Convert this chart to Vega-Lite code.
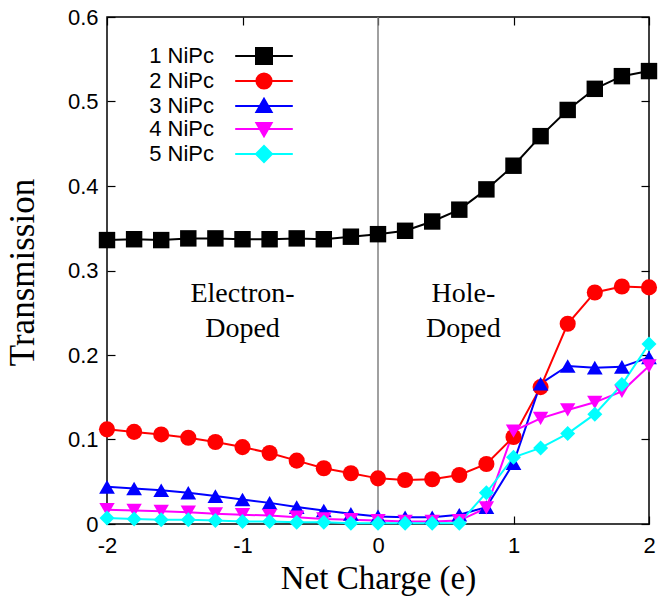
{
  "$schema": "https://vega.github.io/schema/vega-lite/v6.json",
  "width": 542,
  "height": 507,
  "autosize": {"type": "none"},
  "padding": {"left": 107, "top": 17, "right": 9, "bottom": 80},
  "background": "white",
  "config": {"view": {"stroke": "black", "strokeWidth": 1.5}, "font": "Liberation Sans"},
  "datasets": {
    "pts": [
      {"series": "1 NiPc", "charge": -2, "value": 0.336}, {"series": "1 NiPc", "charge": -1.8, "value": 0.337}, {"series": "1 NiPc", "charge": -1.6, "value": 0.336}, {"series": "1 NiPc", "charge": -1.4, "value": 0.338}, {"series": "1 NiPc", "charge": -1.2, "value": 0.338}, {"series": "1 NiPc", "charge": -1, "value": 0.337}, {"series": "1 NiPc", "charge": -0.8, "value": 0.337}, {"series": "1 NiPc", "charge": -0.6, "value": 0.338}, {"series": "1 NiPc", "charge": -0.4, "value": 0.337}, {"series": "1 NiPc", "charge": -0.2, "value": 0.340}, {"series": "1 NiPc", "charge": 0, "value": 0.343}, {"series": "1 NiPc", "charge": 0.2, "value": 0.347}, {"series": "1 NiPc", "charge": 0.4, "value": 0.358}, {"series": "1 NiPc", "charge": 0.6, "value": 0.372}, {"series": "1 NiPc", "charge": 0.8, "value": 0.396}, {"series": "1 NiPc", "charge": 1, "value": 0.424}, {"series": "1 NiPc", "charge": 1.2, "value": 0.459}, {"series": "1 NiPc", "charge": 1.4, "value": 0.490}, {"series": "1 NiPc", "charge": 1.6, "value": 0.515}, {"series": "1 NiPc", "charge": 1.8, "value": 0.530}, {"series": "1 NiPc", "charge": 2, "value": 0.536},
      {"series": "2 NiPc", "charge": -2, "value": 0.112}, {"series": "2 NiPc", "charge": -1.8, "value": 0.109}, {"series": "2 NiPc", "charge": -1.6, "value": 0.106}, {"series": "2 NiPc", "charge": -1.4, "value": 0.102}, {"series": "2 NiPc", "charge": -1.2, "value": 0.097}, {"series": "2 NiPc", "charge": -1, "value": 0.091}, {"series": "2 NiPc", "charge": -0.8, "value": 0.084}, {"series": "2 NiPc", "charge": -0.6, "value": 0.075}, {"series": "2 NiPc", "charge": -0.4, "value": 0.066}, {"series": "2 NiPc", "charge": -0.2, "value": 0.060}, {"series": "2 NiPc", "charge": 0, "value": 0.054}, {"series": "2 NiPc", "charge": 0.2, "value": 0.052}, {"series": "2 NiPc", "charge": 0.4, "value": 0.053}, {"series": "2 NiPc", "charge": 0.6, "value": 0.058}, {"series": "2 NiPc", "charge": 0.8, "value": 0.071}, {"series": "2 NiPc", "charge": 1, "value": 0.103}, {"series": "2 NiPc", "charge": 1.2, "value": 0.162}, {"series": "2 NiPc", "charge": 1.4, "value": 0.237}, {"series": "2 NiPc", "charge": 1.6, "value": 0.274}, {"series": "2 NiPc", "charge": 1.8, "value": 0.281}, {"series": "2 NiPc", "charge": 2, "value": 0.280},
      {"series": "3 NiPc", "charge": -2, "value": 0.044}, {"series": "3 NiPc", "charge": -1.8, "value": 0.042}, {"series": "3 NiPc", "charge": -1.6, "value": 0.040}, {"series": "3 NiPc", "charge": -1.4, "value": 0.037}, {"series": "3 NiPc", "charge": -1.2, "value": 0.033}, {"series": "3 NiPc", "charge": -1, "value": 0.029}, {"series": "3 NiPc", "charge": -0.8, "value": 0.025}, {"series": "3 NiPc", "charge": -0.6, "value": 0.020}, {"series": "3 NiPc", "charge": -0.4, "value": 0.016}, {"series": "3 NiPc", "charge": -0.2, "value": 0.012}, {"series": "3 NiPc", "charge": 0, "value": 0.009}, {"series": "3 NiPc", "charge": 0.2, "value": 0.008}, {"series": "3 NiPc", "charge": 0.4, "value": 0.008}, {"series": "3 NiPc", "charge": 0.6, "value": 0.011}, {"series": "3 NiPc", "charge": 0.8, "value": 0.020}, {"series": "3 NiPc", "charge": 1, "value": 0.072}, {"series": "3 NiPc", "charge": 1.2, "value": 0.166}, {"series": "3 NiPc", "charge": 1.4, "value": 0.187}, {"series": "3 NiPc", "charge": 1.6, "value": 0.185}, {"series": "3 NiPc", "charge": 1.8, "value": 0.186}, {"series": "3 NiPc", "charge": 2, "value": 0.197},
      {"series": "4 NiPc", "charge": -2, "value": 0.017}, {"series": "4 NiPc", "charge": -1.8, "value": 0.016}, {"series": "4 NiPc", "charge": -1.6, "value": 0.015}, {"series": "4 NiPc", "charge": -1.4, "value": 0.014}, {"series": "4 NiPc", "charge": -1.2, "value": 0.012}, {"series": "4 NiPc", "charge": -1, "value": 0.011}, {"series": "4 NiPc", "charge": -0.8, "value": 0.010}, {"series": "4 NiPc", "charge": -0.6, "value": 0.008}, {"series": "4 NiPc", "charge": -0.4, "value": 0.006}, {"series": "4 NiPc", "charge": -0.2, "value": 0.005}, {"series": "4 NiPc", "charge": 0, "value": 0.004}, {"series": "4 NiPc", "charge": 0.2, "value": 0.003}, {"series": "4 NiPc", "charge": 0.4, "value": 0.003}, {"series": "4 NiPc", "charge": 0.6, "value": 0.004}, {"series": "4 NiPc", "charge": 0.8, "value": 0.019}, {"series": "4 NiPc", "charge": 1, "value": 0.110}, {"series": "4 NiPc", "charge": 1.2, "value": 0.125}, {"series": "4 NiPc", "charge": 1.4, "value": 0.135}, {"series": "4 NiPc", "charge": 1.6, "value": 0.144}, {"series": "4 NiPc", "charge": 1.8, "value": 0.157}, {"series": "4 NiPc", "charge": 2, "value": 0.187},
      {"series": "5 NiPc", "charge": -2, "value": 0.007}, {"series": "5 NiPc", "charge": -1.8, "value": 0.006}, {"series": "5 NiPc", "charge": -1.6, "value": 0.005}, {"series": "5 NiPc", "charge": -1.4, "value": 0.005}, {"series": "5 NiPc", "charge": -1.2, "value": 0.004}, {"series": "5 NiPc", "charge": -1, "value": 0.003}, {"series": "5 NiPc", "charge": -0.8, "value": 0.003}, {"series": "5 NiPc", "charge": -0.6, "value": 0.002}, {"series": "5 NiPc", "charge": -0.4, "value": 0.002}, {"series": "5 NiPc", "charge": -0.2, "value": 0.001}, {"series": "5 NiPc", "charge": 0, "value": 0.001}, {"series": "5 NiPc", "charge": 0.2, "value": 0.001}, {"series": "5 NiPc", "charge": 0.4, "value": 0.001}, {"series": "5 NiPc", "charge": 0.6, "value": 0.001}, {"series": "5 NiPc", "charge": 0.8, "value": 0.037}, {"series": "5 NiPc", "charge": 1, "value": 0.079}, {"series": "5 NiPc", "charge": 1.2, "value": 0.090}, {"series": "5 NiPc", "charge": 1.4, "value": 0.107}, {"series": "5 NiPc", "charge": 1.6, "value": 0.130}, {"series": "5 NiPc", "charge": 1.8, "value": 0.165}, {"series": "5 NiPc", "charge": 2, "value": 0.213}
    ],
    "notes": [
      {"charge": -1, "value": 0.263, "label": "Electron-\nDoped"},
      {"charge": 0.63, "value": 0.263, "label": "Hole-\nDoped"}
    ],
    "zero": [{"charge": 0}]
  },
  "resolve": {"axis": {"x": "independent", "y": "independent"}, "legend": {"color": "independent"}},
  "layer": [
    {
      "data": {"name": "zero"},
      "mark": {"type": "rule", "color": "#808080", "strokeWidth": 1.5},
      "encoding": {
        "x": {"field": "charge", "type": "quantitative", "scale": {"domain": [-2, 2], "nice": false}, "axis": null}
      }
    },
    {
      "data": {"name": "pts"},
      "mark": {"type": "line", "strokeWidth": 2},
      "encoding": {
        "x": {"field": "charge", "type": "quantitative", "scale": {"domain": [-2, 2], "nice": false},
          "axis": {"values": [-2, -1, 0, 1, 2], "labelExpr": "toString(datum.value)", "title": "Net Charge (e)",
            "titleFont": "Liberation Serif", "titleFontSize": 33, "titleFontWeight": "normal", "titleColor": "black", "titleY": 38, "titleX": 271,
            "labelFont": "Liberation Sans", "labelFontSize": 22, "labelColor": "black", "labelFlush": false, "labelOverlap": false,
            "tickSize": -8, "tickColor": "black", "tickWidth": 1.2, "domain": false, "grid": false, "labelPadding": 19}},
        "y": {"field": "value", "type": "quantitative", "scale": {"domain": [0, 0.6], "nice": false, "zero": true},
          "axis": {"values": [0, 0.1, 0.2, 0.3, 0.4, 0.5, 0.6], "format": "~g", "title": "Transmission",
            "titleFont": "Liberation Serif", "titleFontSize": 35, "titleFontWeight": "normal", "titleColor": "black", "titleX": -67, "titleY": 255,
            "labelFont": "Liberation Sans", "labelFontSize": 22, "labelColor": "black", "labelFlush": false, "labelOverlap": false,
            "tickSize": -8, "tickColor": "black", "tickWidth": 1.2, "domain": false, "grid": false, "labelPadding": 17}},
        "color": {"field": "series", "type": "nominal",
          "scale": {"domain": ["1 NiPc", "2 NiPc", "3 NiPc", "4 NiPc", "5 NiPc"], "range": ["#000000", "#ff0000", "#0000ff", "#ff00ff", "#00ffff"]},
          "legend": {"orient": "none", "legendX": 146, "legendY": 28, "title": null, "padding": 0,
            "labelFont": "Liberation Sans", "labelFontSize": 22, "labelColor": "black", "labelAlign": "right", "labelOffset": -61,
            "symbolSize": 256, "symbolStrokeWidth": 2, "rowPadding": 1, "symbolOpacity": 1,
            "encode": {"symbols": {"update": {
              "shape": {"signal": "datum.value === '1 NiPc' ? 'M-3.6,0H3.6M-1,-1H1V1H-1Z' : datum.value === '2 NiPc' ? 'M-3.6,0H3.6M0.95,0A0.95,0.95,0,1,1,-0.95,0A0.95,0.95,0,1,1,0.95,0Z' : datum.value === '3 NiPc' ? 'M-3.6,0H3.6M0,-0.9L0.95,0.75L-0.95,0.75Z' : datum.value === '4 NiPc' ? 'M-3.6,0H3.6M0,0.9L0.95,-0.75L-0.95,-0.75Z' : 'M-3.6,0H3.6M0,-1L1,0L0,1L-1,0Z'"},
              "fill": {"signal": "scale('color', datum.value)"},
              "stroke": {"signal": "scale('color', datum.value)"},
              "opacity": {"value": 1}
            }}}}},
        "order": {"field": "charge", "type": "quantitative"}
      }
    },
    {
      "data": {"name": "pts"},
      "mark": {"type": "point", "filled": true, "opacity": 1},
      "encoding": {
        "x": {"field": "charge", "type": "quantitative", "scale": {"domain": [-2, 2], "nice": false},
          "axis": {"orient": "top", "values": [-2, -1, 0, 1, 2], "labels": false, "title": null, "tickSize": -8, "tickColor": "black", "tickWidth": 1.2, "domain": false, "grid": false}},
        "y": {"field": "value", "type": "quantitative", "scale": {"domain": [0, 0.6], "nice": false, "zero": true},
          "axis": {"orient": "right", "values": [0, 0.1, 0.2, 0.3, 0.4, 0.5, 0.6], "labels": false, "title": null, "tickSize": -8, "tickColor": "black", "tickWidth": 1.2, "domain": false, "grid": false}},
        "color": {"field": "series", "type": "nominal", "legend": null,
          "scale": {"domain": ["1 NiPc", "2 NiPc", "3 NiPc", "4 NiPc", "5 NiPc"], "range": ["#000000", "#ff0000", "#0000ff", "#ff00ff", "#00ffff"]}},
        "shape": {"field": "series", "type": "nominal", "legend": null,
          "scale": {"domain": ["1 NiPc", "2 NiPc", "3 NiPc", "4 NiPc", "5 NiPc"], "range": ["square", "circle", "triangle-up", "triangle-down", "diamond"]}},
        "size": {"field": "series", "type": "nominal", "legend": null,
          "scale": {"domain": ["1 NiPc", "2 NiPc", "3 NiPc", "4 NiPc", "5 NiPc"], "range": [270, 225, 200, 200, 170]}}
      }
    },
    {
      "data": {"name": "notes"},
      "mark": {"type": "text", "font": "Liberation Serif", "fontSize": 28, "align": "center", "baseline": "alphabetic", "lineBreak": "\n", "lineHeight": 35, "color": "black"},
      "encoding": {
        "x": {"field": "charge", "type": "quantitative", "scale": {"domain": [-2, 2], "nice": false}, "axis": null},
        "y": {"field": "value", "type": "quantitative", "scale": {"domain": [0, 0.6], "nice": false}, "axis": null},
        "text": {"field": "label"}
      }
    }
  ]
}
